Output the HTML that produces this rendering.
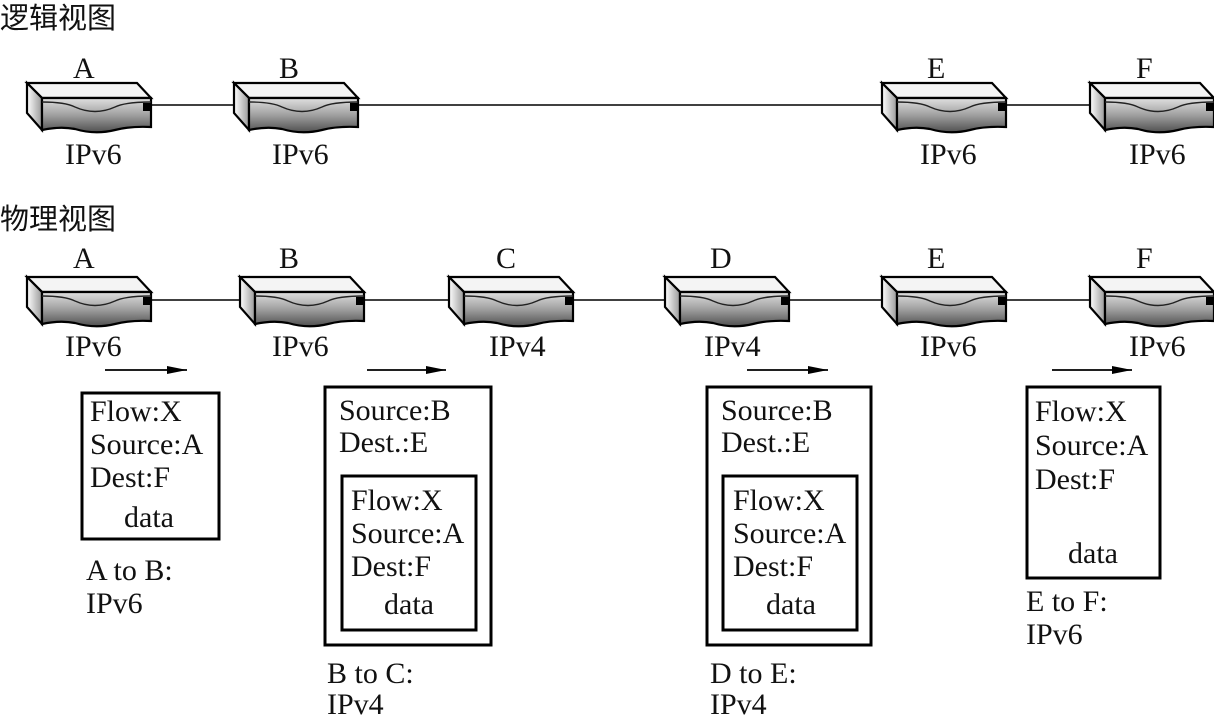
<!DOCTYPE html>
<html><head><meta charset="utf-8"><style>
html,body{margin:0;padding:0;background:#fff;}
svg{display:block}
text{font-family:"Liberation Serif","Noto Serif CJK SC",serif;fill:#111;font-size:30px}
.cn{font-family:"Liberation Sans","Noto Sans CJK SC",sans-serif;font-size:29px}
</style></head><body>
<svg width="1214" height="715" viewBox="0 0 1214 715" xmlns="http://www.w3.org/2000/svg">
<defs>
<linearGradient id="fg" x1="0" y1="0" x2="0" y2="1">
<stop offset="0" stop-color="#e0e0e0"/><stop offset="0.5" stop-color="#a0a0a0"/><stop offset="1" stop-color="#505050"/>
</linearGradient>
<linearGradient id="lg" x1="0" y1="0" x2="1" y2="0">
<stop offset="0" stop-color="#fff"/><stop offset="1" stop-color="#999"/>
</linearGradient>
<g id="r">
<path d="M2,0 L112,0 L126,15 L17,15 Z" fill="#f4f4f4" stroke="#000" stroke-width="2.2"/>
<path d="M2,0 L17,15 L17,47 L2,30 Z" fill="url(#lg)" stroke="#000" stroke-width="2.2"/>
<path d="M17,15 L126,15 L126,44 Q105,43 90,47 Q70,52 50,46 Q35,43 17,47 Z" fill="url(#fg)" stroke="#000" stroke-width="2.2"/>
<path d="M17,19 Q40,19 50,24 Q70,33 90,24 Q100,19 126,19" fill="none" stroke="#222" stroke-width="1.4"/>
<rect x="118" y="20" width="8" height="8" fill="#000"/>
</g>
<marker id="ah" markerWidth="20" markerHeight="8" refX="20" refY="4" orient="auto" markerUnits="userSpaceOnUse"><path d="M0,0 L20,4 L0,8 Z" fill="#000"/></marker>
</defs>

<text class="cn" x="0" y="28">逻辑视图</text>
<text class="cn" x="0" y="229">物理视图</text>

<line x1="150" y1="105" x2="1090" y2="105" stroke="#000" stroke-width="1.5"/>
<use href="#r" x="25" y="83"/>
<use href="#r" x="232" y="83"/>
<use href="#r" x="880" y="83"/>
<use href="#r" x="1088" y="83"/>
<text x="73" y="78">A</text><text x="279" y="78">B</text><text x="927" y="78">E</text><text x="1136" y="78">F</text>
<text x="65" y="164">IPv6</text><text x="272" y="164">IPv6</text><text x="920" y="164">IPv6</text><text x="1129" y="164">IPv6</text>

<line x1="150" y1="300" x2="1090" y2="300" stroke="#000" stroke-width="1.5"/>
<use href="#r" x="25" y="277"/>
<use href="#r" x="238" y="277"/>
<use href="#r" x="447" y="277"/>
<use href="#r" x="663" y="277"/>
<use href="#r" x="880" y="277"/>
<use href="#r" x="1088" y="277"/>
<text x="73" y="268">A</text><text x="279" y="268">B</text><text x="496" y="268">C</text><text x="710" y="268">D</text><text x="927" y="268">E</text><text x="1136" y="268">F</text>
<text x="65" y="356">IPv6</text><text x="272" y="356">IPv6</text><text x="489" y="356">IPv4</text><text x="704" y="356">IPv4</text><text x="920" y="356">IPv6</text><text x="1129" y="356">IPv6</text>

<g stroke="#000" stroke-width="1.8">
<line x1="105" y1="370" x2="187" y2="370" marker-end="url(#ah)"/>
<line x1="367" y1="370" x2="446" y2="370" marker-end="url(#ah)"/>
<line x1="747" y1="370" x2="828" y2="370" marker-end="url(#ah)"/>
<line x1="1052" y1="370" x2="1132" y2="370" marker-end="url(#ah)"/>
</g>

<g fill="none" stroke="#000" stroke-width="3">
<rect x="82" y="393" width="137" height="146"/>
<rect x="325" y="387" width="166" height="258"/>
<rect x="342" y="476" width="134" height="154"/>
<rect x="707" y="387" width="164" height="258"/>
<rect x="723" y="476" width="134" height="154"/>
<rect x="1027" y="387" width="133" height="191"/>
</g>

<text x="90" y="421">Flow:X</text>
<text x="90" y="454">Source:A</text>
<text x="90" y="487">Dest:F</text>
<text x="124" y="527">data</text>
<text x="86" y="580">A to B:</text>
<text x="86" y="613">IPv6</text>

<text x="339" y="420">Source:B</text>
<text x="339" y="452">Dest.:E</text>
<text x="351" y="510">Flow:X</text>
<text x="351" y="543">Source:A</text>
<text x="351" y="576">Dest:F</text>
<text x="384" y="614">data</text>
<text x="327" y="683">B to C:</text>
<text x="327" y="714">IPv4</text>

<text x="721" y="420">Source:B</text>
<text x="721" y="452">Dest.:E</text>
<text x="733" y="510">Flow:X</text>
<text x="733" y="543">Source:A</text>
<text x="733" y="576">Dest:F</text>
<text x="766" y="614">data</text>
<text x="710" y="683">D to E:</text>
<text x="710" y="714">IPv4</text>

<text x="1035" y="421">Flow:X</text>
<text x="1035" y="455">Source:A</text>
<text x="1035" y="489">Dest:F</text>
<text x="1068" y="563">data</text>
<text x="1026" y="611">E to F:</text>
<text x="1026" y="644">IPv6</text>
</svg>
</body></html>
